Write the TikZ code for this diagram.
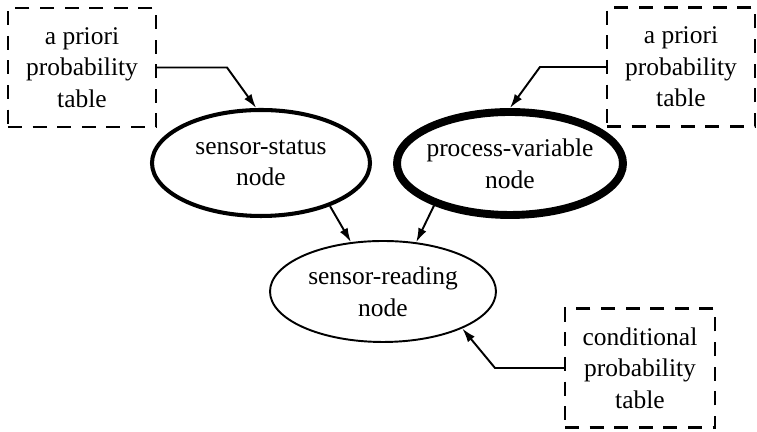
\documentclass[tikz,border=0pt]{standalone}
\usepackage{fontspec}
\setmainfont{Liberation Serif}
\usetikzlibrary{arrows.meta,shapes.geometric}
\begin{document}
\begin{tikzpicture}[
  font=\fontsize{14.5}{18}\selectfont,
  probtable/.style={draw, line width=1.2pt, dash pattern=on 8pt off 6pt,
    align=center, inner sep=0pt, minimum width=2.96cm, minimum height=2.38cm},
  bnode/.style={draw, ellipse, align=center, inner sep=0pt, inner xsep=-1cm},
  link/.style={line width=1.1pt, -{Latex[length=8pt,width=5pt]}}
]
\useasboundingbox (0,0) rectangle (15.14,8.64);
% coordinates
\coordinate (KS) at ( 4.54, 7.29);%
\coordinate (KP) at (10.80, 7.30);%
\coordinate (KC) at ( 9.90, 1.28);%
% tables
\node[probtable] (TS) at ( 1.64, 7.29) {a priori\\probability\\table};
\node[probtable] (TP) at (13.62, 7.30) {a priori\\probability\\table};
\node[probtable, minimum width=3.0cm] (TC) at (12.80, 1.28) {conditional\\probability\\table};
% nodes
\node[bnode, line width=2.3pt, minimum width=4.36cm, minimum height=2.12cm] (S) at ( 5.22, 5.38) {sensor-status\\node};
\node[bnode, line width=4.5pt, minimum width=4.52cm, minimum height=2.06cm] (P) at (10.20, 5.37) {process-variable\\node};
\node[bnode, line width=1.1pt, minimum width=4.52cm, minimum height=2.02cm] (R) at ( 7.66, 2.81) {sensor-reading\\node};
% arrows
\draw[link] (TS.east) -- (KS) -- (S.95);
\draw[link] (TP.west) -- (KP) -- (P.north);
\draw[link] (TC.west) -- (KC) -- (R.-25);
\draw[link] (S.-32)   -- (R.123);
\draw[link] (P.209.5) -- (R.56);
\end{tikzpicture}
\end{document}
